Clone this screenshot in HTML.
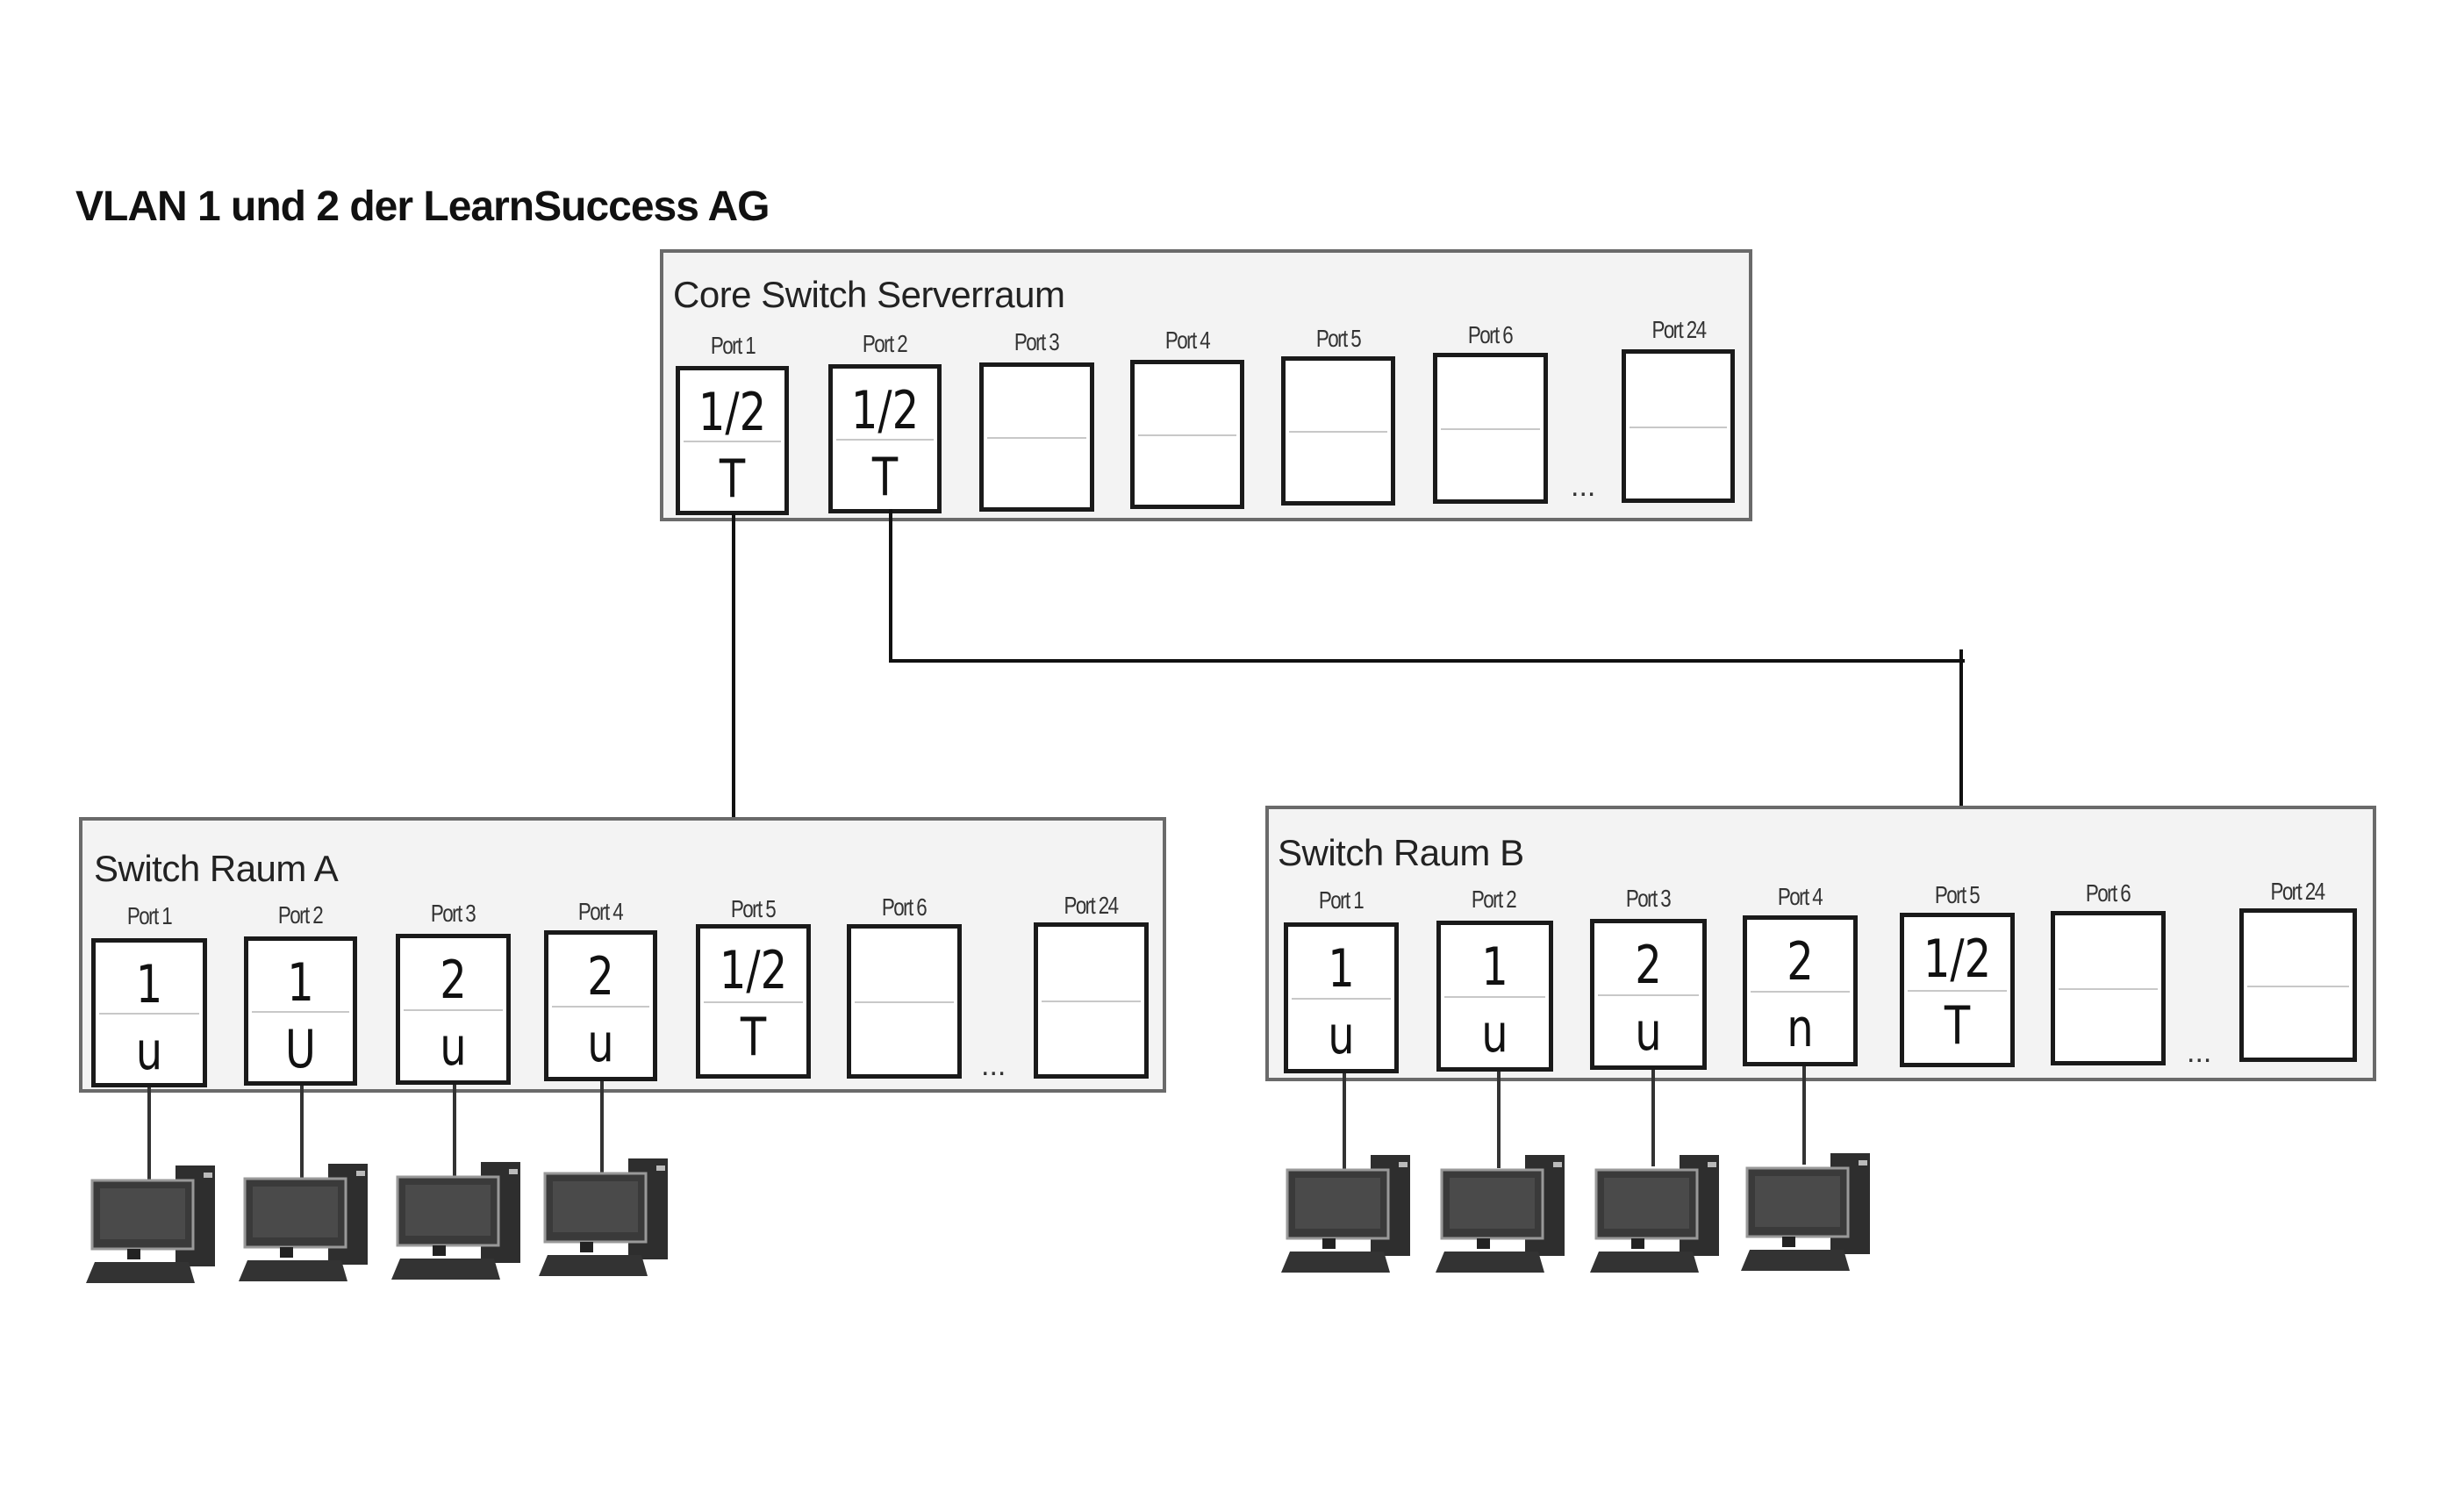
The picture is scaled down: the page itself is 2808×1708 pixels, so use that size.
<!DOCTYPE html>
<html><head><meta charset="utf-8"><style>
body{margin:0;width:2808px;height:1708px;background:#fff;position:relative;overflow:hidden;font-family:"Liberation Sans",sans-serif;}
.a{position:absolute}
.sw{position:absolute;border:4px solid #6a6a6a;background:#f3f3f3;box-sizing:border-box}
.sl{position:absolute;font-size:42px;color:#222;letter-spacing:-0.5px}
.p{position:absolute;border:5px solid #1a1a1a;background:#fff;box-sizing:border-box}
.p:after{content:"";position:absolute;left:4px;right:4px;top:50%;border-top:2px solid #c8c8c8}
.pl{position:absolute;font-size:28px;color:#333;width:140px;text-align:center;letter-spacing:-2px;transform:scaleX(0.8)}
.h{position:absolute;left:0;right:0;text-align:center;font-family:"DejaVu Sans",sans-serif;font-size:60px;color:#111;line-height:1;transform:scaleX(0.8)}
.h.t{top:18px}.h.b{top:94px}
.ln{position:absolute;background:#111}
.dots{position:absolute;font-size:34px;color:#333}
</style></head><body>
<div class="a" style="left:86px;top:208px;font-size:48px;color:#111;font-weight:bold;letter-spacing:-1px">VLAN 1 und 2 der LearnSuccess AG</div>

<div class="sw" style="left:752px;top:284px;width:1245px;height:310px"></div>
<div class="sl" style="left:767px;top:312px">Core Switch Serverraum</div>
<div class="pl" style="left:765px;top:378px">Port 1</div>
<div class="pl" style="left:938px;top:376px">Port 2</div>
<div class="pl" style="left:1111px;top:374px">Port 3</div>
<div class="pl" style="left:1283px;top:372px">Port 4</div>
<div class="pl" style="left:1455px;top:370px">Port 5</div>
<div class="pl" style="left:1628px;top:366px">Port 6</div>
<div class="pl" style="left:1843px;top:360px">Port 24</div>
<div class="p" style="left:770px;top:417px;width:129px;height:170px"><div class="h t">1/2</div><div class="h b">T</div></div>
<div class="p" style="left:944px;top:415px;width:129px;height:170px"><div class="h t">1/2</div><div class="h b">T</div></div>
<div class="p" style="left:1116px;top:413px;width:131px;height:170px"></div>
<div class="p" style="left:1288px;top:410px;width:130px;height:170px"></div>
<div class="p" style="left:1460px;top:406px;width:130px;height:170px"></div>
<div class="p" style="left:1633px;top:402px;width:131px;height:172px"></div>
<div class="p" style="left:1848px;top:398px;width:129px;height:175px"></div>
<div class="dots" style="left:1790px;top:535px">...</div>

<div class="ln" style="left:834px;top:585px;width:4px;height:470px"></div>
<div class="ln" style="left:1013px;top:580px;width:4px;height:175px"></div>
<div class="ln" style="left:1013px;top:751px;width:1226px;height:4px"></div>
<div class="ln" style="left:2233px;top:740px;width:4px;height:300px"></div>

<div class="sw" style="left:90px;top:931px;width:1239px;height:314px"></div>
<div class="sl" style="left:107px;top:966px">Switch Raum A</div>
<div class="pl" style="left:100px;top:1028px">Port 1</div>
<div class="pl" style="left:272px;top:1027px">Port 2</div>
<div class="pl" style="left:446px;top:1025px">Port 3</div>
<div class="pl" style="left:614px;top:1023px">Port 4</div>
<div class="pl" style="left:788px;top:1020px">Port 5</div>
<div class="pl" style="left:960px;top:1018px">Port 6</div>
<div class="pl" style="left:1173px;top:1016px">Port 24</div>
<div class="p" style="left:104px;top:1069px;width:132px;height:170px"><div class="h t">1</div><div class="h b">u</div></div>
<div class="p" style="left:278px;top:1067px;width:129px;height:170px"><div class="h t">1</div><div class="h b">U</div></div>
<div class="p" style="left:451px;top:1064px;width:131px;height:172px"><div class="h t">2</div><div class="h b">u</div></div>
<div class="p" style="left:620px;top:1060px;width:129px;height:172px"><div class="h t">2</div><div class="h b">u</div></div>
<div class="p" style="left:793px;top:1053px;width:131px;height:176px"><div class="h t">1/2</div><div class="h b">T</div></div>
<div class="p" style="left:965px;top:1053px;width:131px;height:176px"></div>
<div class="p" style="left:1178px;top:1051px;width:131px;height:178px"></div>
<div class="dots" style="left:1118px;top:1195px">...</div>

<div class="sw" style="left:1442px;top:918px;width:1266px;height:314px"></div>
<div class="sl" style="left:1456px;top:948px">Switch Raum B</div>
<div class="pl" style="left:1458px;top:1010px">Port 1</div>
<div class="pl" style="left:1632px;top:1009px">Port 2</div>
<div class="pl" style="left:1808px;top:1008px">Port 3</div>
<div class="pl" style="left:1981px;top:1006px">Port 4</div>
<div class="pl" style="left:2160px;top:1004px">Port 5</div>
<div class="pl" style="left:2332px;top:1002px">Port 6</div>
<div class="pl" style="left:2548px;top:1000px">Port 24</div>
<div class="p" style="left:1463px;top:1051px;width:131px;height:172px"><div class="h t">1</div><div class="h b">u</div></div>
<div class="p" style="left:1637px;top:1049px;width:133px;height:172px"><div class="h t">1</div><div class="h b">u</div></div>
<div class="p" style="left:1812px;top:1047px;width:133px;height:172px"><div class="h t">2</div><div class="h b">u</div></div>
<div class="p" style="left:1986px;top:1043px;width:131px;height:172px"><div class="h t">2</div><div class="h b">n</div></div>
<div class="p" style="left:2165px;top:1040px;width:131px;height:176px"><div class="h t">1/2</div><div class="h b">T</div></div>
<div class="p" style="left:2337px;top:1038px;width:131px;height:176px"></div>
<div class="p" style="left:2552px;top:1035px;width:134px;height:175px"></div>
<div class="dots" style="left:2492px;top:1180px">...</div>

<div class="ln" style="left:168px;top:1239px;width:4px;height:108px;background:#333"></div>
<div class="ln" style="left:342px;top:1237px;width:4px;height:108px;background:#333"></div>
<div class="ln" style="left:516px;top:1236px;width:4px;height:108px;background:#333"></div>
<div class="ln" style="left:684px;top:1232px;width:4px;height:108px;background:#333"></div>
<div class="ln" style="left:1530px;top:1223px;width:4px;height:110px;background:#333"></div>
<div class="ln" style="left:1706px;top:1221px;width:4px;height:110px;background:#333"></div>
<div class="ln" style="left:1882px;top:1219px;width:4px;height:110px;background:#333"></div>
<div class="ln" style="left:2054px;top:1215px;width:4px;height:112px;background:#333"></div>

<svg class="a" style="left:0;top:0" width="2808" height="1708">
<defs><g id="pc">
<rect x="30" y="0" width="45" height="115" fill="#2e2e2e"/>
<rect x="62" y="8" width="10" height="6" fill="#bbb"/>
<rect x="-65" y="17" width="115" height="78" fill="#3a3a3a" stroke="#999" stroke-width="3"/>
<rect x="-56" y="26" width="97" height="58" fill="#4a4a4a"/>
<rect x="-25" y="95" width="15" height="12" fill="#222"/>
<path d="M-62 110 L45 110 L52 134 L-72 134 Z" fill="#333"/>
</g></defs>
<use href="#pc" x="170" y="1328"/>
<use href="#pc" x="344" y="1326"/>
<use href="#pc" x="518" y="1324"/>
<use href="#pc" x="686" y="1320"/>
<use href="#pc" x="1532" y="1316"/>
<use href="#pc" x="1708" y="1316"/>
<use href="#pc" x="1884" y="1316"/>
<use href="#pc" x="2056" y="1314"/>
</svg>
</body></html>
